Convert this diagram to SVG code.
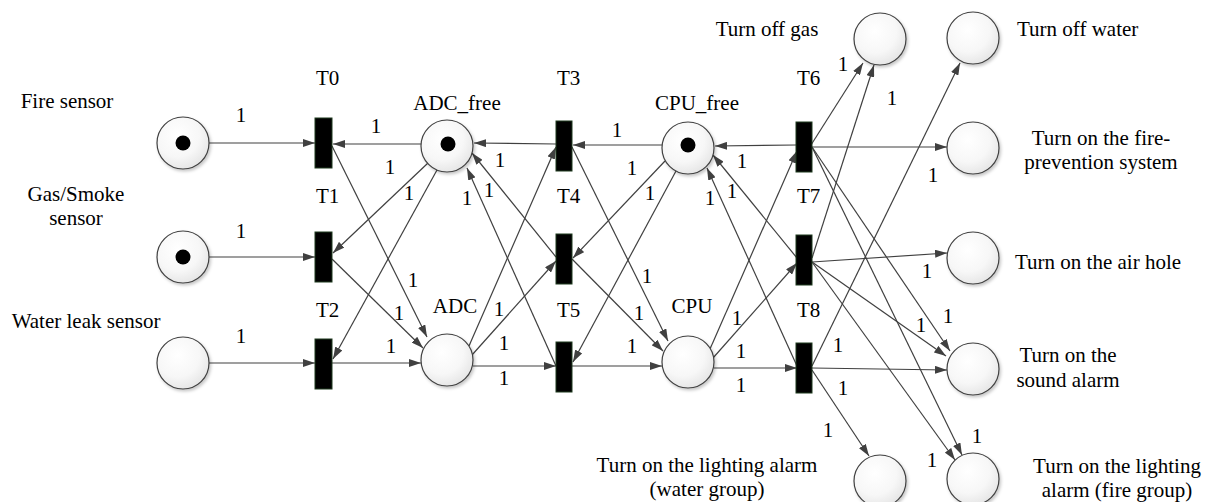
<svg xmlns="http://www.w3.org/2000/svg" width="1213" height="502" viewBox="0 0 1213 502">
<defs>
  <radialGradient id="pg" cx="0.4" cy="0.35" r="0.7">
    <stop offset="0" stop-color="#ffffff"/>
    <stop offset="0.6" stop-color="#f7f7f7"/>
    <stop offset="1" stop-color="#e4e4e4"/>
  </radialGradient>
  <filter id="sh" x="-20%" y="-20%" width="150%" height="150%">
    <feDropShadow dx="1.5" dy="2" stdDeviation="1.5" flood-color="#000" flood-opacity="0.22"/>
  </filter>
  <marker id="ah" markerWidth="12" markerHeight="8" refX="12" refY="4" orient="auto" markerUnits="userSpaceOnUse">
    <path d="M0,0 L12,4 L0,8 z" fill="#404040"/>
  </marker>
</defs>
<style>
  text { font-family: "Liberation Serif", "Times New Roman", serif; font-size: 21px; fill: #000; }
  .place { fill: url(#pg); stroke: #404040; stroke-width: 1.2; filter: url(#sh); }
  .token { fill: #000; }
  .bar { fill: #000; stroke: #1f3a1f; stroke-width: 1; }
  .arc { stroke: #404040; stroke-width: 1.2; fill: none; marker-end: url(#ah); }
  .mid { text-anchor: middle; }
</style>
<rect width="1213" height="502" fill="#fff"/>

<g id="connectors">
  <line class="arc" x1="209" y1="143" x2="315" y2="143"/>
  <line class="arc" x1="209" y1="257" x2="315" y2="257"/>
  <line class="arc" x1="209" y1="363" x2="315" y2="363"/>
  <line class="arc" x1="421" y1="144" x2="333" y2="144"/>
  <line class="arc" x1="428" y1="163" x2="333" y2="253"/>
  <line class="arc" x1="437" y1="170" x2="333" y2="359"/>
  <line class="arc" x1="332" y1="146" x2="427" y2="337"/>
  <line class="arc" x1="332" y1="259" x2="423" y2="348"/>
  <line class="arc" x1="332" y1="363" x2="421" y2="363"/>
  <line class="arc" x1="556" y1="144" x2="474" y2="143"/>
  <line class="arc" x1="556" y1="257" x2="472" y2="153"/>
  <line class="arc" x1="556" y1="366" x2="467" y2="168"/>
  <line class="arc" x1="469" y1="346" x2="556" y2="147"/>
  <line class="arc" x1="472" y1="355" x2="556" y2="261"/>
  <line class="arc" x1="473" y1="366" x2="556" y2="366"/>
  <line class="arc" x1="662" y1="145" x2="573" y2="145"/>
  <line class="arc" x1="665" y1="161" x2="573" y2="258"/>
  <line class="arc" x1="676" y1="171" x2="573" y2="362"/>
  <line class="arc" x1="572" y1="147" x2="668" y2="341"/>
  <line class="arc" x1="572" y1="259" x2="663" y2="351"/>
  <line class="arc" x1="572" y1="366" x2="662" y2="366"/>
  <line class="arc" x1="796" y1="145" x2="715" y2="146"/>
  <line class="arc" x1="797" y1="258" x2="713" y2="155"/>
  <line class="arc" x1="797" y1="366" x2="707" y2="168"/>
  <line class="arc" x1="710" y1="349" x2="797" y2="151"/>
  <line class="arc" x1="713" y1="358" x2="797" y2="263"/>
  <line class="arc" x1="714" y1="368" x2="797" y2="368"/>
  <line class="arc" x1="811" y1="145" x2="863" y2="63"/>
  <line class="arc" x1="812" y1="147" x2="947" y2="147"/>
  <line class="arc" x1="812" y1="147" x2="950" y2="351"/>
  <line class="arc" x1="812" y1="147" x2="962" y2="455"/>
  <line class="arc" x1="812" y1="258" x2="874" y2="65"/>
  <line class="arc" x1="812" y1="262" x2="947" y2="253"/>
  <line class="arc" x1="812" y1="262" x2="946" y2="356"/>
  <line class="arc" x1="812" y1="262" x2="955" y2="460"/>
  <line class="arc" x1="812" y1="366" x2="960" y2="63"/>
  <line class="arc" x1="812" y1="368" x2="947" y2="370"/>
  <line class="arc" x1="812" y1="370" x2="869" y2="456"/>
  <g id="weights" class="mid">
    <text class="mid" x="241" y="122">1</text>
    <text class="mid" x="241" y="238">1</text>
    <text class="mid" x="241" y="343">1</text>
    <text class="mid" x="376" y="133">1</text>
    <text class="mid" x="390" y="174">1</text>
    <text class="mid" x="409" y="200">1</text>
    <text class="mid" x="467" y="205">1</text>
    <text class="mid" x="489" y="197">1</text>
    <text class="mid" x="500" y="167">1</text>
    <text class="mid" x="413" y="287">1</text>
    <text class="mid" x="399" y="320">1</text>
    <text class="mid" x="391" y="353">1</text>
    <text class="mid" x="499" y="316">1</text>
    <text class="mid" x="504" y="350">1</text>
    <text class="mid" x="504" y="385">1</text>
    <text class="mid" x="617" y="137">1</text>
    <text class="mid" x="632" y="175">1</text>
    <text class="mid" x="650" y="200">1</text>
    <text class="mid" x="710" y="205">1</text>
    <text class="mid" x="732" y="198">1</text>
    <text class="mid" x="742" y="168">1</text>
    <text class="mid" x="647" y="283">1</text>
    <text class="mid" x="639" y="320">1</text>
    <text class="mid" x="632" y="353">1</text>
    <text class="mid" x="737" y="325">1</text>
    <text class="mid" x="741" y="358">1</text>
    <text class="mid" x="741" y="392">1</text>
    <text class="mid" x="843" y="71">1</text>
    <text class="mid" x="892" y="105">1</text>
    <text class="mid" x="933" y="182">1</text>
    <text class="mid" x="927" y="278">1</text>
    <text class="mid" x="838" y="352">1</text>
    <text class="mid" x="843" y="395">1</text>
    <text class="mid" x="828" y="437">1</text>
    <text class="mid" x="921" y="332">1</text>
    <text class="mid" x="948" y="323">1</text>
    <text class="mid" x="977" y="443">1</text>
    <text class="mid" x="932" y="467">1</text>
  </g>
</g>

<g id="p_fire"><circle class="place" cx="183" cy="143" r="26"/><circle class="token" cx="183" cy="143" r="7.5"/><text class="mid" x="67" y="108">Fire sensor</text></g>
<g id="p_gas"><circle class="place" cx="183" cy="257" r="26"/><circle class="token" cx="183" cy="257" r="7.5"/><text class="mid" x="76" y="201">Gas/Smoke</text><text class="mid" x="76" y="225">sensor</text></g>
<g id="p_water"><circle class="place" cx="183" cy="363" r="26"/><text class="mid" x="86" y="328">Water leak sensor</text></g>
<g id="p_adc_free"><circle class="place" cx="447" cy="146" r="26"/><circle class="token" cx="448" cy="144" r="7.5"/><text class="mid" x="457" y="110">ADC_free</text></g>
<g id="p_adc"><circle class="place" cx="447" cy="360" r="26"/><text class="mid" x="455" y="313">ADC</text></g>
<g id="p_cpu_free"><circle class="place" cx="688" cy="148" r="26"/><circle class="token" cx="688" cy="145" r="7.5"/><text class="mid" x="697" y="110">CPU_free</text></g>
<g id="p_cpu"><circle class="place" cx="688" cy="362" r="26"/><text class="mid" x="692" y="313">CPU</text></g>
<g id="p_off_gas"><circle class="place" cx="880" cy="39" r="26"/><text class="mid" x="767" y="36">Turn off gas</text></g>
<g id="p_off_water"><circle class="place" cx="973" cy="38" r="26"/><text x="1017" y="36">Turn off water</text></g>
<g id="p_fire_prev"><circle class="place" cx="973" cy="148" r="26"/><text class="mid" x="1101" y="145">Turn on the fire-</text><text class="mid" x="1101" y="169">prevention system</text></g>
<g id="p_air_hole"><circle class="place" cx="973" cy="258" r="26"/><text x="1015" y="269">Turn on the air hole</text></g>
<g id="p_sound"><circle class="place" cx="973" cy="369" r="26"/><text class="mid" x="1068" y="362">Turn on the</text><text class="mid" x="1068" y="387">sound alarm</text></g>
<g id="p_light_fire"><circle class="place" cx="973" cy="479" r="26"/><text class="mid" x="1117" y="473">Turn on the lighting</text><text class="mid" x="1117" y="497">alarm (fire group)</text></g>
<g id="p_light_water"><circle class="place" cx="880" cy="481" r="26"/><text class="mid" x="707" y="472">Turn on the lighting alarm</text><text class="mid" x="707" y="496">(water group)</text></g>

<g id="t0"><rect class="bar" x="315" y="118" width="17" height="50"/><text x="316" y="85">T0</text></g>
<g id="t1"><rect class="bar" x="315" y="232" width="17" height="50"/><text x="316" y="203">T1</text></g>
<g id="t2"><rect class="bar" x="315" y="339" width="17" height="50"/><text x="316" y="317">T2</text></g>
<g id="t3"><rect class="bar" x="556" y="121" width="16" height="50"/><text x="557" y="85">T3</text></g>
<g id="t4"><rect class="bar" x="556" y="234" width="16" height="50"/><text x="557" y="203">T4</text></g>
<g id="t5"><rect class="bar" x="556" y="342" width="16" height="50"/><text x="557" y="317">T5</text></g>
<g id="t6"><rect class="bar" x="796" y="122" width="16" height="50"/><text x="797" y="85">T6</text></g>
<g id="t7"><rect class="bar" x="796" y="235" width="16" height="50"/><text x="797" y="203">T7</text></g>
<g id="t8"><rect class="bar" x="796" y="343" width="16" height="50"/><text x="797" y="317">T8</text></g>
</svg>
